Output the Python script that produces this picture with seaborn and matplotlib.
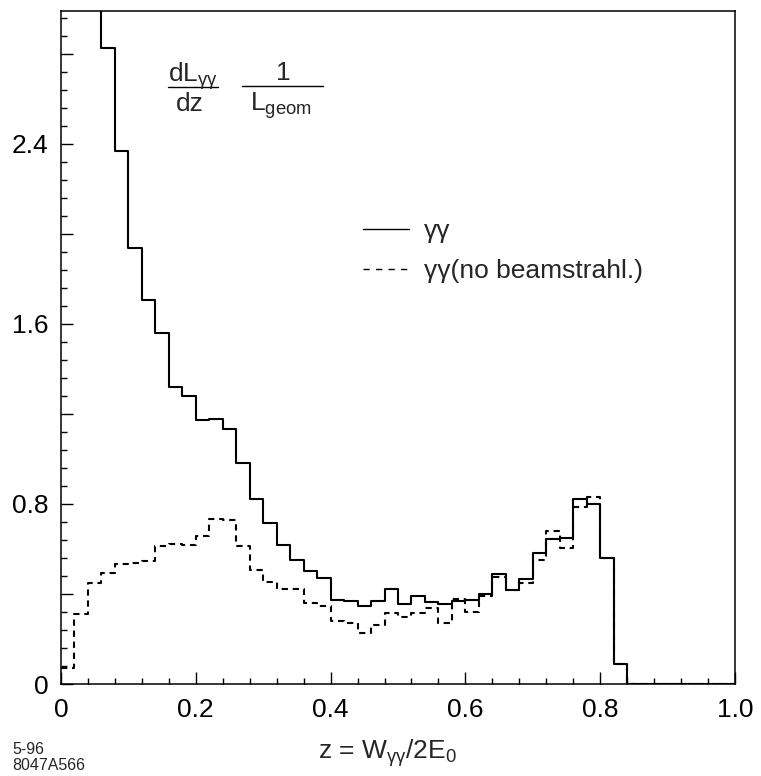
import numpy as np
import pandas as pd
import matplotlib
matplotlib.use("Agg")
import matplotlib.pyplot as plt
import seaborn as sns
from matplotlib.lines import Line2D
from matplotlib.ticker import MultipleLocator, FixedLocator, FuncFormatter

# ---------------- data ----------------
bin_edges = np.linspace(0.0, 1.0, 51)
bin_centers = 0.5 * (bin_edges[:-1] + bin_edges[1:])

gg_with_beamstrahlung = [
    3.60, 3.30, 3.05, 2.825, 2.37, 1.935, 1.707, 1.56, 1.321, 1.278,
    1.172, 1.179, 1.135, 0.983, 0.824, 0.715, 0.616, 0.551, 0.502, 0.473,
    0.372, 0.369, 0.347, 0.369, 0.421, 0.355, 0.390, 0.365, 0.355, 0.369,
    0.374, 0.398, 0.488, 0.417, 0.468, 0.584, 0.643, 0.650, 0.820, 0.800,
    0.560, 0.089, 0.0, 0.0, 0.0, 0.0, 0.0, 0.0, 0.0, 0.0,
]
gg_no_beamstrahlung = [
    0.070, 0.313, 0.449, 0.495, 0.532, 0.536, 0.548, 0.613, 0.624, 0.619,
    0.656, 0.734, 0.728, 0.613, 0.507, 0.455, 0.424, 0.424, 0.362, 0.347,
    0.281, 0.273, 0.226, 0.263, 0.315, 0.296, 0.315, 0.336, 0.270, 0.377,
    0.320, 0.391, 0.477, 0.417, 0.448, 0.550, 0.680, 0.606, 0.788, 0.830,
    0.560, 0.089, 0.0, 0.0, 0.0, 0.0, 0.0, 0.0, 0.0, 0.0,
]
series_labels = ["γγ", "γγ(no beamstrahl.)"]
x_tick_values = [0.0, 0.2, 0.4, 0.6, 0.8, 1.0]
x_tick_labels = ["0", "0.2", "0.4", "0.6", "0.8", "1.0"]
y_major_values = [0.0, 0.4, 0.8, 1.2, 1.6, 2.0, 2.4, 2.8]
y_labelled = {0.0: "0", 0.8: "0.8", 1.6: "1.6", 2.4: "2.4"}

df = pd.DataFrame({
    "z": np.concatenate([bin_centers, bin_centers]),
    "value": np.concatenate([gg_with_beamstrahlung, gg_no_beamstrahlung]),
    "series": [series_labels[0]] * 50 + [series_labels[1]] * 50,
})

# ---------------- style ----------------
sns.set_theme(style="white")
plt.rcParams["font.family"] = ["Liberation Sans", "DejaVu Sans"]
plt.rcParams["mathtext.fontset"] = "custom"
plt.rcParams["mathtext.rm"] = "Liberation Sans"
plt.rcParams["mathtext.it"] = "Liberation Sans"
plt.rcParams["mathtext.bf"] = "Liberation Sans"
plt.rcParams["mathtext.default"] = "regular"

W, H = 761, 776
fig = plt.figure(figsize=(W / 100, H / 100), dpi=100)
ax = fig.add_axes([61 / W, (H - 684) / H, (735 - 61) / W, (684 - 11) / H])

lw = 1.5
dash = (0, (3, 2.3))
sns.histplot(data=df[df.series == series_labels[0]], x="z", weights="value",
             binwidth=0.02, binrange=(0.0, 1.0), element="step", fill=False,
             color="black", linewidth=lw, ax=ax)
sns.histplot(data=df[df.series == series_labels[1]], x="z", weights="value",
             binwidth=0.02, binrange=(0.0, 1.0), element="step", fill=False,
             color="black", linewidth=lw, linestyle=dash, ax=ax)

ax.set_xlim(0, 1.0)
ax.set_ylim(0, 2.99)
ax.set_xlabel("")
ax.set_ylabel("")

ax.xaxis.set_major_locator(FixedLocator(x_tick_values))
ax.set_xticklabels(x_tick_labels)
ax.xaxis.set_minor_locator(MultipleLocator(0.04))
ax.yaxis.set_major_locator(FixedLocator(y_major_values))
ax.yaxis.set_minor_locator(MultipleLocator(0.08))
ax.yaxis.set_major_formatter(FuncFormatter(
    lambda v, p: y_labelled.get(round(v, 2), "")))

ax.tick_params(axis="both", which="both", direction="in", colors="black",
               labelsize=19, width=1.0)
ax.tick_params(axis="both", which="major", length=8.5)
ax.tick_params(axis="both", which="minor", length=4.5)
ax.tick_params(axis="x", which="both", bottom=True, top=False, pad=10)
ax.tick_params(axis="y", which="both", left=True, right=False, pad=9)
for s in ax.spines.values():
    s.set_color("black")
    s.set_linewidth(1.1)

# legend
handles = [Line2D([], [], color="black", lw=1.0),
           Line2D([], [], color="black", lw=1.0, linestyle=(0, (4.5, 4.5)))]
ax.legend(handles, series_labels, loc="upper left",
          bbox_to_anchor=(363 / W, 1 - 219 / H), bbox_transform=fig.transFigure,
          frameon=False, fontsize=19, handlelength=1.75, handletextpad=0.55,
          labelspacing=0.6, borderpad=0, borderaxespad=0)

# fraction annotation  dL_γγ/dz · 1/L_geom
def fy(py):
    return 1 - py / H

fig.text(168 / W, fy(82), r"dL$_{\gamma\gamma}$", fontsize=19, va="baseline", ha="left")
fig.add_artist(Line2D([168 / W, 218 / W], [fy(87), fy(87)], color="black", lw=1.0))
fig.text(190 / W, fy(111), "dz", fontsize=19, va="baseline", ha="center")
fig.text(283 / W, fy(80), "1", fontsize=19, va="baseline", ha="center")
fig.add_artist(Line2D([242 / W, 323 / W], [fy(86), fy(86)], color="black", lw=1.0))
fig.text(250 / W, fy(111), r"L$_{geom}$", fontsize=19, va="baseline", ha="left")

# x-axis title and figure id
fig.text(388 / W, fy(759), r"z = W$_{\gamma\gamma}$/2E$_0$", fontsize=19,
         va="baseline", ha="center")
fig.text(12 / W, fy(754), "5-96", fontsize=11.5, va="baseline", ha="left",
         family=["Liberation Sans Narrow", "Liberation Sans"])
fig.text(12 / W, fy(770), "8047A566", fontsize=11.5, va="baseline", ha="left",
         family=["Liberation Sans Narrow", "Liberation Sans"])

fig.savefig("out.png", dpi=100)
